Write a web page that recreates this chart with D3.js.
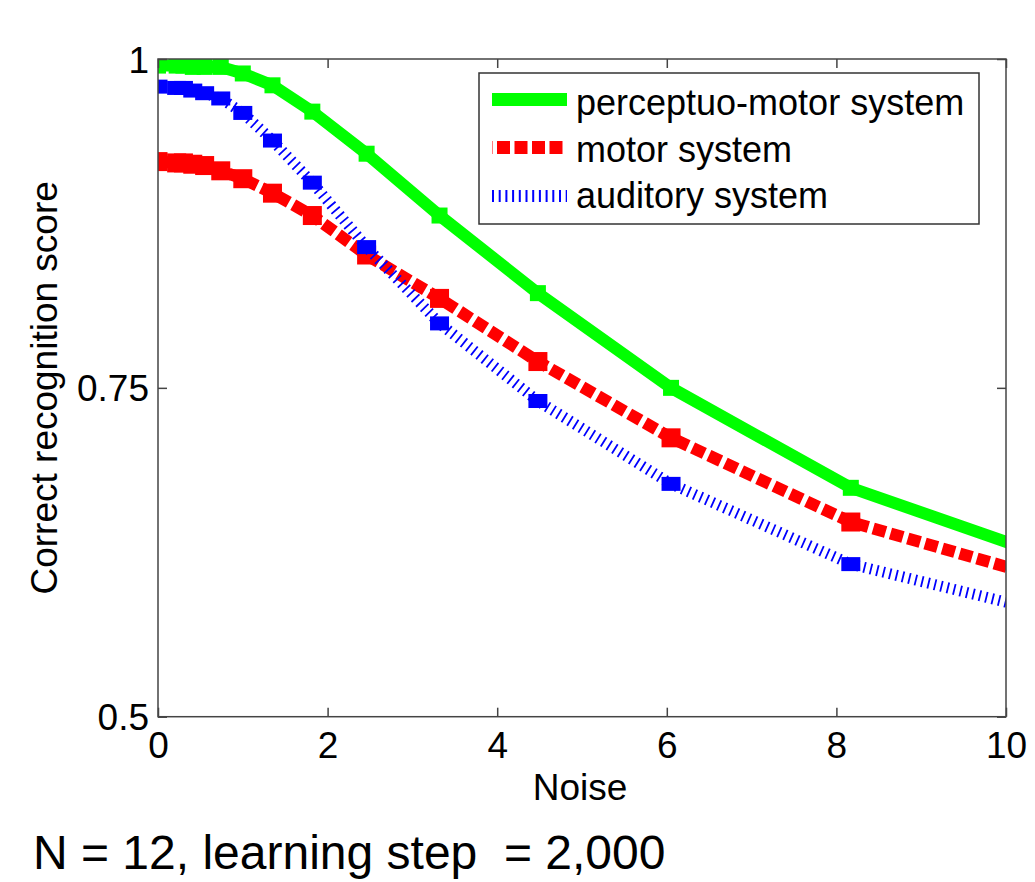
<!DOCTYPE html>
<html>
<head>
<meta charset="utf-8">
<script src="https://cdn.jsdelivr.net/npm/d3@7"></script>
<style>
  html, body { margin: 0; padding: 0; background: #fff; }
  svg { display: block; font-family: "Liberation Sans", Arial, sans-serif; }
</style>
</head>
<body>
<svg id="chart" width="1035" height="882"></svg>
<script>
// ---- data ----
const noise = [0, 0.22, 0.30, 0.41, 0.55, 0.74, 1.0, 1.35, 1.82, 2.46, 3.32, 4.48, 6.05, 8.17, 11.02];
const perceptuoMotor = [0.995, 0.995, 0.995, 0.994, 0.994, 0.994, 0.989, 0.980, 0.960, 0.928, 0.881, 0.822, 0.750, 0.674, 0.610];
const motor          = [0.922, 0.921, 0.921, 0.920, 0.919, 0.915, 0.909, 0.898, 0.881, 0.851, 0.818, 0.770, 0.712, 0.648, 0.595];
const auditory       = [0.979, 0.978, 0.978, 0.976, 0.974, 0.970, 0.959, 0.938, 0.906, 0.857, 0.799, 0.740, 0.677, 0.616, 0.571];
const seriesNames = ["perceptuo-motor system", "motor system", "auditory system"];
const xTicks = [0, 2, 4, 6, 8, 10];
const yTicks = [0.5, 0.75, 1];
const yTickLabels = ["0.5", "0.75", "1"];
const xLabel = "Noise";
const yLabel = "Correct recognition score";
const caption = "N = 12, learning step  = 2,000";

// ---- layout ----
const L = 158, R = 1006, T = 59, B = 716.7;
const svg = d3.select("#chart");
const x = d3.scaleLinear().domain([0, 10]).range([L, R]);
const y = d3.scaleLinear().domain([0.5, 1]).range([B, T]);

svg.append("defs").append("clipPath").attr("id", "plotclip")
  .append("rect").attr("x", L).attr("y", T).attr("width", R - L).attr("height", B - T);

const styles = [
  { color: "#00ff00", width: 12, dash: null, mw: 16, mh: 16 },
  { color: "#ff0000", width: 12, dash: "13,5", mw: 19, mh: 19 },
  { color: "#0000ff", width: 11, dash: "1.8,4.8", mw: 19, mh: 14 }
];
const allSeries = [perceptuoMotor, motor, auditory];

const plot = svg.append("g").attr("clip-path", "url(#plotclip)");
const line = d3.line().x(d => x(d[0])).y(d => y(d[1]));

allSeries.forEach((vals, i) => {
  const st = styles[i];
  const pts = noise.map((n, k) => [n, vals[k]]);
  const g = plot.append("g");
  g.append("path").datum(pts)
    .attr("d", line)
    .attr("fill", "none")
    .attr("stroke", st.color)
    .attr("stroke-width", st.width)
    .attr("stroke-dasharray", st.dash)
    .attr("stroke-linejoin", "miter");
  g.selectAll("rect").data(pts).join("rect")
    .attr("x", d => x(d[0]) - st.mw / 2)
    .attr("y", d => y(d[1]) - st.mh / 2)
    .attr("width", st.mw).attr("height", st.mh)
    .attr("fill", st.color);
});

// ---- axes ----
const axisColor = "#444";
const xAxisB = d3.axisBottom(x).tickValues(xTicks).tickSize(-9).tickFormat(d3.format("d")).tickPadding(16);
const xAxisT = d3.axisTop(x).tickValues(xTicks).tickSize(-9).tickFormat("");
const yAxisL = d3.axisLeft(y).tickValues(yTicks).tickSize(-9).tickFormat((d, i) => yTickLabels[i]).tickPadding(18);
const yAxisR = d3.axisRight(y).tickValues(yTicks).tickSize(-9).tickFormat("");

function styleAxis(g) {
  g.select(".domain").remove();
  g.selectAll(".tick line").attr("stroke", axisColor).attr("stroke-width", 1.5);
  g.selectAll("text").attr("fill", "#000").attr("font-size", 37)
    .attr("font-family", "'Liberation Sans', Arial, sans-serif");
}
svg.append("g").attr("transform", `translate(0,${B})`).call(xAxisB).call(styleAxis)
  .selectAll("text").attr("dy", null).attr("y", 41);
svg.append("g").attr("transform", `translate(0,${T})`).call(xAxisT).call(styleAxis);
svg.append("g").attr("transform", `translate(${L},0)`).call(yAxisL).call(styleAxis)
  .selectAll("text").attr("dy", null).attr("y", 13).attr("x", -9);
svg.append("g").attr("transform", `translate(${R},0)`).call(yAxisR).call(styleAxis);

svg.append("rect").attr("x", L).attr("y", T).attr("width", R - L).attr("height", B - T)
  .attr("fill", "none").attr("stroke", axisColor).attr("stroke-width", 1.5);

// ---- labels ----
svg.append("text").attr("x", (L + R) / 2 - 2).attr("y", 800)
  .attr("text-anchor", "middle").attr("font-size", 37).text(xLabel);
svg.append("text").attr("transform", `translate(57,${(T + B) / 2}) rotate(-90)`)
  .attr("text-anchor", "middle").attr("font-size", 37).text(yLabel);
svg.append("text").attr("x", 33).attr("y", 869).attr("font-size", 48)
  .style("white-space", "pre").text(caption);

// ---- legend ----
const lg = svg.append("g");
lg.append("rect").attr("x", 479).attr("y", 73).attr("width", 500).attr("height", 151)
  .attr("fill", "#fff").attr("stroke", "#333").attr("stroke-width", 1.5);
const lineYs = [99.5, 147.5, 196];
const textYs = [115, 162, 208];
seriesNames.forEach((name, i) => {
  const st = styles[i];
  lg.append("line").attr("x1", 492).attr("x2", 567)
    .attr("y1", lineYs[i]).attr("y2", lineYs[i])
    .attr("stroke", st.color)
    .attr("stroke-width", i === 2 ? 12 : 13)
    .attr("stroke-dasharray", i === 1 ? "13,4.5" : (i === 2 ? "2,4.7" : null))
    .attr("stroke-dashoffset", i === 1 ? -5 : 0);
  lg.append("text").attr("x", 576).attr("y", textYs[i]).attr("font-size", 36).text(name);
});
</script>
</body>
</html>
